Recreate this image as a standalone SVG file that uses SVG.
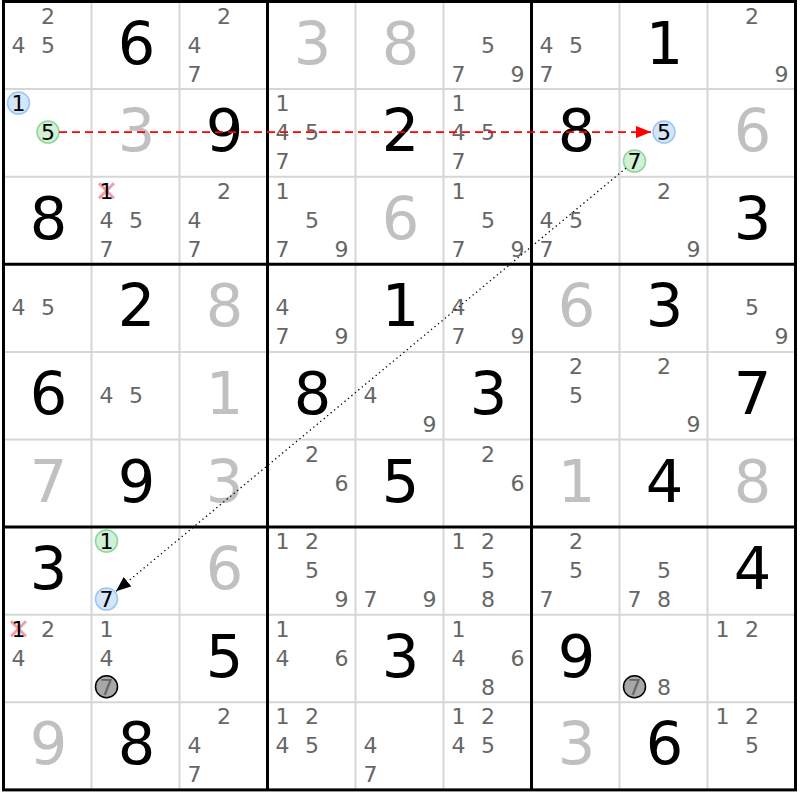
<svg xmlns="http://www.w3.org/2000/svg" width="800" height="800" viewBox="0 0 800 800">
<style>
text{font-family:"DejaVu Sans","Liberation Sans",sans-serif;text-anchor:middle}
.c{font-size:22px;fill:#666}
.k{font-size:22px;fill:#000}
.g{font-size:59px;fill:#c0c0c0}
.s{font-size:59px;fill:#000}
.thin{stroke:#d6d6d6;stroke-width:2}
.thick{stroke:#000;stroke-width:3}
.blue{fill:#d4e6fa;stroke:#9ac6f2;stroke-width:1.5}
.green{fill:#d2f0d6;stroke:#8cd698;stroke-width:1.5}
.grey{fill:#a8a8a8;stroke:#000;stroke-width:1.5}
.x{stroke:#f2a0a6;stroke-width:3}
</style>
<defs>
<marker id="ar" markerUnits="userSpaceOnUse" markerWidth="16" markerHeight="12" refX="15" refY="6" orient="auto"><path d="M0,0 L15,6 L0,12 z" fill="#ff0000"/></marker>
<marker id="ak" markerUnits="userSpaceOnUse" markerWidth="16" markerHeight="12" refX="15" refY="6" orient="auto"><path d="M0,0 L15,6 L0,12 z" fill="#000"/></marker>
</defs>
<rect x="0" y="0" width="800" height="800" fill="#fff"/>
<g id="grid">
<g class="thin">
<line x1="91.5" y1="1.5" x2="91.5" y2="789.9"/><line x1="179.5" y1="1.5" x2="179.5" y2="789.9"/>
<line x1="355.5" y1="1.5" x2="355.5" y2="789.9"/><line x1="443.5" y1="1.5" x2="443.5" y2="789.9"/>
<line x1="619.5" y1="1.5" x2="619.5" y2="789.9"/><line x1="707.5" y1="1.5" x2="707.5" y2="789.9"/>
<line x1="3.5" y1="89.1" x2="795.5" y2="89.1"/><line x1="3.5" y1="176.7" x2="795.5" y2="176.7"/>
<line x1="3.5" y1="351.9" x2="795.5" y2="351.9"/><line x1="3.5" y1="439.5" x2="795.5" y2="439.5"/>
<line x1="3.5" y1="614.7" x2="795.5" y2="614.7"/><line x1="3.5" y1="702.3" x2="795.5" y2="702.3"/>
</g>
<g class="thick">
<line x1="267.5" y1="1.5" x2="267.5" y2="789.9"/><line x1="531.5" y1="1.5" x2="531.5" y2="789.9"/>
<line x1="3.5" y1="264.3" x2="795.5" y2="264.3"/><line x1="3.5" y1="527.1" x2="795.5" y2="527.1"/>
<rect x="3.5" y="1.5" width="792" height="788.4" fill="none"/>
</g>
</g>
<g id="r1c1" transform="translate(3.5,1.5)"><text class="c" x="44.5" y="22">2</text><text class="c" x="15" y="51">4</text><text class="c" x="44.5" y="51">5</text></g>
<g id="r1c2" transform="translate(91.5,1.5)"><text class="s" x="45" y="62">6</text></g>
<g id="r1c3" transform="translate(179.5,1.5)"><text class="c" x="44.5" y="22">2</text><text class="c" x="15" y="51">4</text><text class="c" x="15" y="80">7</text></g>
<g id="r1c4" transform="translate(267.5,1.5)"><text class="g" x="45" y="62">3</text></g>
<g id="r1c5" transform="translate(355.5,1.5)"><text class="g" x="45" y="62">8</text></g>
<g id="r1c6" transform="translate(443.5,1.5)"><text class="c" x="44.5" y="51">5</text><text class="c" x="15" y="80">7</text><text class="c" x="74" y="80">9</text></g>
<g id="r1c7" transform="translate(531.5,1.5)"><text class="c" x="15" y="51">4</text><text class="c" x="44.5" y="51">5</text><text class="c" x="15" y="80">7</text></g>
<g id="r1c8" transform="translate(619.5,1.5)"><text class="s" x="45" y="62">1</text></g>
<g id="r1c9" transform="translate(707.5,1.5)"><text class="c" x="44.5" y="22">2</text><text class="c" x="74" y="80">9</text></g>

<g id="r2c1" transform="translate(3.5,89.1)"><circle class="blue" cx="15" cy="14" r="11"/><text class="k" x="15" y="22">1</text><circle class="green" cx="44.5" cy="43" r="11"/><text class="k" x="44.5" y="51">5</text></g>
<g id="r2c2" transform="translate(91.5,89.1)"><text class="g" x="45" y="62">3</text></g>
<g id="r2c3" transform="translate(179.5,89.1)"><text class="s" x="45" y="62">9</text></g>
<g id="r2c4" transform="translate(267.5,89.1)"><text class="c" x="15" y="22">1</text><text class="c" x="15" y="51">4</text><text class="c" x="44.5" y="51">5</text><text class="c" x="15" y="80">7</text></g>
<g id="r2c5" transform="translate(355.5,89.1)"><text class="s" x="45" y="62">2</text></g>
<g id="r2c6" transform="translate(443.5,89.1)"><text class="c" x="15" y="22">1</text><text class="c" x="15" y="51">4</text><text class="c" x="44.5" y="51">5</text><text class="c" x="15" y="80">7</text></g>
<g id="r2c7" transform="translate(531.5,89.1)"><text class="s" x="45" y="62">8</text></g>
<g id="r2c8" transform="translate(619.5,89.1)"><circle class="blue" cx="44.5" cy="43" r="11"/><text class="k" x="44.5" y="51">5</text><circle class="green" cx="15" cy="72" r="11"/><text class="k" x="15" y="80">7</text></g>
<g id="r2c9" transform="translate(707.5,89.1)"><text class="g" x="45" y="62">6</text></g>

<g id="r3c1" transform="translate(3.5,176.7)"><text class="s" x="45" y="62">8</text></g>
<g id="r3c2" transform="translate(91.5,176.7)"><line class="x" x1="7.5" y1="6.5" x2="22.5" y2="21.5"/><line class="x" x1="22.5" y1="6.5" x2="7.5" y2="21.5"/><text class="k" x="15" y="22">1</text><text class="c" x="15" y="51">4</text><text class="c" x="44.5" y="51">5</text><text class="c" x="15" y="80">7</text></g>
<g id="r3c3" transform="translate(179.5,176.7)"><text class="c" x="44.5" y="22">2</text><text class="c" x="15" y="51">4</text><text class="c" x="15" y="80">7</text></g>
<g id="r3c4" transform="translate(267.5,176.7)"><text class="c" x="15" y="22">1</text><text class="c" x="44.5" y="51">5</text><text class="c" x="15" y="80">7</text><text class="c" x="74" y="80">9</text></g>
<g id="r3c5" transform="translate(355.5,176.7)"><text class="g" x="45" y="62">6</text></g>
<g id="r3c6" transform="translate(443.5,176.7)"><text class="c" x="15" y="22">1</text><text class="c" x="44.5" y="51">5</text><text class="c" x="15" y="80">7</text><text class="c" x="74" y="80">9</text></g>
<g id="r3c7" transform="translate(531.5,176.7)"><text class="c" x="15" y="51">4</text><text class="c" x="44.5" y="51">5</text><text class="c" x="15" y="80">7</text></g>
<g id="r3c8" transform="translate(619.5,176.7)"><text class="c" x="44.5" y="22">2</text><text class="c" x="74" y="80">9</text></g>
<g id="r3c9" transform="translate(707.5,176.7)"><text class="s" x="45" y="62">3</text></g>

<g id="r4c1" transform="translate(3.5,264.3)"><text class="c" x="15" y="51">4</text><text class="c" x="44.5" y="51">5</text></g>
<g id="r4c2" transform="translate(91.5,264.3)"><text class="s" x="45" y="62">2</text></g>
<g id="r4c3" transform="translate(179.5,264.3)"><text class="g" x="45" y="62">8</text></g>
<g id="r4c4" transform="translate(267.5,264.3)"><text class="c" x="15" y="51">4</text><text class="c" x="15" y="80">7</text><text class="c" x="74" y="80">9</text></g>
<g id="r4c5" transform="translate(355.5,264.3)"><text class="s" x="45" y="62">1</text></g>
<g id="r4c6" transform="translate(443.5,264.3)"><text class="c" x="15" y="51">4</text><text class="c" x="15" y="80">7</text><text class="c" x="74" y="80">9</text></g>
<g id="r4c7" transform="translate(531.5,264.3)"><text class="g" x="45" y="62">6</text></g>
<g id="r4c8" transform="translate(619.5,264.3)"><text class="s" x="45" y="62">3</text></g>
<g id="r4c9" transform="translate(707.5,264.3)"><text class="c" x="44.5" y="51">5</text><text class="c" x="74" y="80">9</text></g>

<g id="r5c1" transform="translate(3.5,351.9)"><text class="s" x="45" y="62">6</text></g>
<g id="r5c2" transform="translate(91.5,351.9)"><text class="c" x="15" y="51">4</text><text class="c" x="44.5" y="51">5</text></g>
<g id="r5c3" transform="translate(179.5,351.9)"><text class="g" x="45" y="62">1</text></g>
<g id="r5c4" transform="translate(267.5,351.9)"><text class="s" x="45" y="62">8</text></g>
<g id="r5c5" transform="translate(355.5,351.9)"><text class="c" x="15" y="51">4</text><text class="c" x="74" y="80">9</text></g>
<g id="r5c6" transform="translate(443.5,351.9)"><text class="s" x="45" y="62">3</text></g>
<g id="r5c7" transform="translate(531.5,351.9)"><text class="c" x="44.5" y="22">2</text><text class="c" x="44.5" y="51">5</text></g>
<g id="r5c8" transform="translate(619.5,351.9)"><text class="c" x="44.5" y="22">2</text><text class="c" x="74" y="80">9</text></g>
<g id="r5c9" transform="translate(707.5,351.9)"><text class="s" x="45" y="62">7</text></g>

<g id="r6c1" transform="translate(3.5,439.5)"><text class="g" x="45" y="62">7</text></g>
<g id="r6c2" transform="translate(91.5,439.5)"><text class="s" x="45" y="62">9</text></g>
<g id="r6c3" transform="translate(179.5,439.5)"><text class="g" x="45" y="62">3</text></g>
<g id="r6c4" transform="translate(267.5,439.5)"><text class="c" x="44.5" y="22">2</text><text class="c" x="74" y="51">6</text></g>
<g id="r6c5" transform="translate(355.5,439.5)"><text class="s" x="45" y="62">5</text></g>
<g id="r6c6" transform="translate(443.5,439.5)"><text class="c" x="44.5" y="22">2</text><text class="c" x="74" y="51">6</text></g>
<g id="r6c7" transform="translate(531.5,439.5)"><text class="g" x="45" y="62">1</text></g>
<g id="r6c8" transform="translate(619.5,439.5)"><text class="s" x="45" y="62">4</text></g>
<g id="r6c9" transform="translate(707.5,439.5)"><text class="g" x="45" y="62">8</text></g>

<g id="r7c1" transform="translate(3.5,527.1)"><text class="s" x="45" y="62">3</text></g>
<g id="r7c2" transform="translate(91.5,527.1)"><circle class="green" cx="15" cy="14" r="11"/><text class="k" x="15" y="22">1</text><circle class="blue" cx="15" cy="72" r="11"/><text class="k" x="15" y="80">7</text></g>
<g id="r7c3" transform="translate(179.5,527.1)"><text class="g" x="45" y="62">6</text></g>
<g id="r7c4" transform="translate(267.5,527.1)"><text class="c" x="15" y="22">1</text><text class="c" x="44.5" y="22">2</text><text class="c" x="44.5" y="51">5</text><text class="c" x="74" y="80">9</text></g>
<g id="r7c5" transform="translate(355.5,527.1)"><text class="c" x="15" y="80">7</text><text class="c" x="74" y="80">9</text></g>
<g id="r7c6" transform="translate(443.5,527.1)"><text class="c" x="15" y="22">1</text><text class="c" x="44.5" y="22">2</text><text class="c" x="44.5" y="51">5</text><text class="c" x="44.5" y="80">8</text></g>
<g id="r7c7" transform="translate(531.5,527.1)"><text class="c" x="44.5" y="22">2</text><text class="c" x="44.5" y="51">5</text><text class="c" x="15" y="80">7</text></g>
<g id="r7c8" transform="translate(619.5,527.1)"><text class="c" x="44.5" y="51">5</text><text class="c" x="15" y="80">7</text><text class="c" x="44.5" y="80">8</text></g>
<g id="r7c9" transform="translate(707.5,527.1)"><text class="s" x="45" y="62">4</text></g>

<g id="r8c1" transform="translate(3.5,614.7)"><line class="x" x1="7.5" y1="6.5" x2="22.5" y2="21.5"/><line class="x" x1="22.5" y1="6.5" x2="7.5" y2="21.5"/><text class="k" x="15" y="22">1</text><text class="c" x="44.5" y="22">2</text><text class="c" x="15" y="51">4</text></g>
<g id="r8c2" transform="translate(91.5,614.7)"><text class="c" x="15" y="22">1</text><text class="c" x="15" y="51">4</text><circle class="grey" cx="15" cy="72" r="11"/><text class="c" x="15" y="80">7</text></g>
<g id="r8c3" transform="translate(179.5,614.7)"><text class="s" x="45" y="62">5</text></g>
<g id="r8c4" transform="translate(267.5,614.7)"><text class="c" x="15" y="22">1</text><text class="c" x="15" y="51">4</text><text class="c" x="74" y="51">6</text></g>
<g id="r8c5" transform="translate(355.5,614.7)"><text class="s" x="45" y="62">3</text></g>
<g id="r8c6" transform="translate(443.5,614.7)"><text class="c" x="15" y="22">1</text><text class="c" x="15" y="51">4</text><text class="c" x="74" y="51">6</text><text class="c" x="44.5" y="80">8</text></g>
<g id="r8c7" transform="translate(531.5,614.7)"><text class="s" x="45" y="62">9</text></g>
<g id="r8c8" transform="translate(619.5,614.7)"><circle class="grey" cx="15" cy="72" r="11"/><text class="c" x="15" y="80">7</text><text class="c" x="44.5" y="80">8</text></g>
<g id="r8c9" transform="translate(707.5,614.7)"><text class="c" x="15" y="22">1</text><text class="c" x="44.5" y="22">2</text></g>

<g id="r9c1" transform="translate(3.5,702.3)"><text class="g" x="45" y="62">9</text></g>
<g id="r9c2" transform="translate(91.5,702.3)"><text class="s" x="45" y="62">8</text></g>
<g id="r9c3" transform="translate(179.5,702.3)"><text class="c" x="44.5" y="22">2</text><text class="c" x="15" y="51">4</text><text class="c" x="15" y="80">7</text></g>
<g id="r9c4" transform="translate(267.5,702.3)"><text class="c" x="15" y="22">1</text><text class="c" x="44.5" y="22">2</text><text class="c" x="15" y="51">4</text><text class="c" x="44.5" y="51">5</text></g>
<g id="r9c5" transform="translate(355.5,702.3)"><text class="c" x="15" y="51">4</text><text class="c" x="15" y="80">7</text></g>
<g id="r9c6" transform="translate(443.5,702.3)"><text class="c" x="15" y="22">1</text><text class="c" x="44.5" y="22">2</text><text class="c" x="15" y="51">4</text><text class="c" x="44.5" y="51">5</text></g>
<g id="r9c7" transform="translate(531.5,702.3)"><text class="g" x="45" y="62">3</text></g>
<g id="r9c8" transform="translate(619.5,702.3)"><text class="s" x="45" y="62">6</text></g>
<g id="r9c9" transform="translate(707.5,702.3)"><text class="c" x="15" y="22">1</text><text class="c" x="44.5" y="22">2</text><text class="c" x="44.5" y="51">5</text></g>

<g id="connectors">
<line x1="59" y1="132.1" x2="651" y2="132.1" stroke="#ff0000" stroke-width="1.6" stroke-dasharray="8,5" marker-end="url(#ar)"/>
<line x1="626" y1="168.1" x2="116" y2="591.3" stroke="#000" stroke-width="1.3" stroke-dasharray="1.3,3.2" marker-end="url(#ak)"/>
</g>
</svg>
